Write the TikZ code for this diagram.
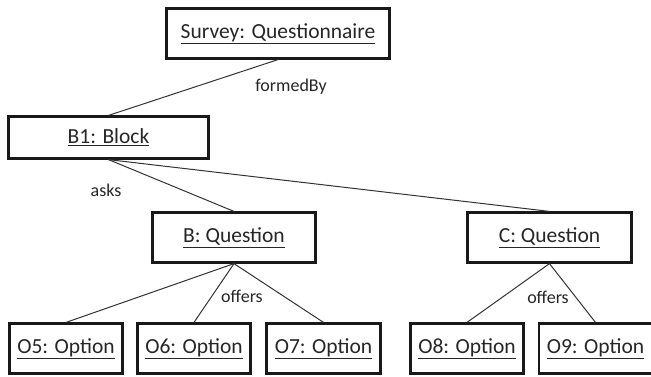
\documentclass[tikz,border=0pt]{standalone}
\usepackage{fontspec}
\setmainfont{Carlito}
\begin{document}
\begin{tikzpicture}[x=1pt,y=-1pt,
  obj/.style={draw=black!90,line width=2.2pt,minimum height=50pt,inner sep=0pt,font=\fontsize{21.5}{24}\selectfont,text=black!85},
  lnk/.style={draw=black!80,line width=1pt},
  lbl/.style={font=\fontsize{18}{20}\selectfont,text=black!85,inner sep=0pt}]
\useasboundingbox (0,0) rectangle (651,376);
\node[obj,minimum width=223pt] (s) at (278,33.5) {\underline{Survey: Questionnaire}};
\node[obj,minimum width=200pt,minimum height=42pt] (b1) at (108.5,137.5) {\underline{B1: Block}};
\node[obj,minimum width=163pt] (bq) at (234,237.5) {\underline{B: Question}};
\node[obj,minimum width=164pt] (cq) at (549.5,237.5) {\underline{C: Question}};
\node[obj,minimum width=113pt] (o5) at (66,348.5) {\underline{O5: Option}};
\node[obj,minimum width=113pt] (o6) at (194,348.5) {\underline{O6: Option}};
\node[obj,minimum width=114pt] (o7) at (323.5,348.5) {\underline{O7: Option}};
\node[obj,minimum width=113pt] (o8) at (467,348.5) {\underline{O8: Option}};
\node[obj,minimum width=113pt] (o9) at (595.5,348.5) {\underline{O9: Option}};
\draw[lnk] (s.south) -- (b1.north);
\draw[lnk] (b1.south) -- (bq.north);
\draw[lnk] (b1.south) -- (cq.north);
\draw[lnk] (bq.south) -- (o5.north);
\draw[lnk] (bq.south) -- (o6.north);
\draw[lnk] (bq.south) -- (o7.north);
\draw[lnk] (cq.south) -- (o8.north);
\draw[lnk] (cq.south) -- (o9.north);
\node[lbl] (l1) at (291,87) {formedBy};
\node[lbl] (l2) at (106,190) {asks};
\node[lbl] (l3) at (242,296) {offers};
\node[lbl] (l4) at (548,297) {offers};
\end{tikzpicture}
\end{document}
